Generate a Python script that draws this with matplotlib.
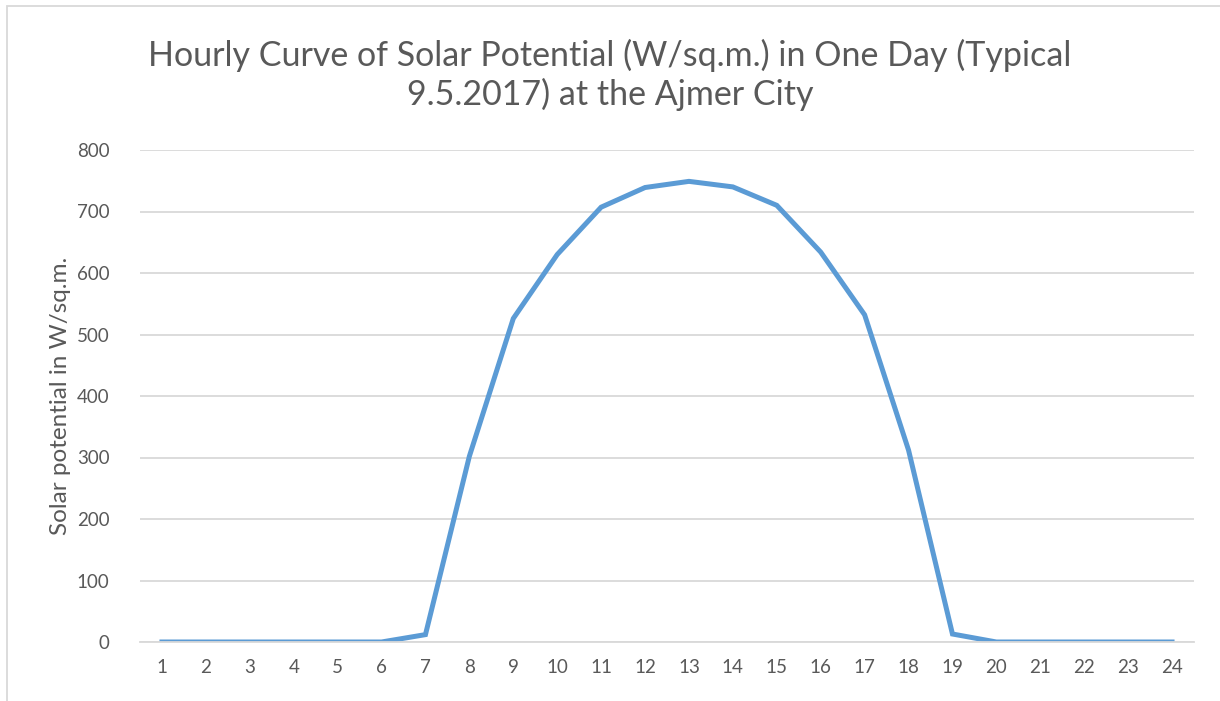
import matplotlib.pyplot as plt
from matplotlib.patches import Rectangle

# hourly solar potential, W/sq.m.
hours = list(range(1, 25))
potential = [0, 0, 0, 0, 0, 0, 12, 302, 526, 630, 707, 739,
             749, 740, 710, 634, 532, 312, 13, 0, 0, 0, 0, 0]
yticks = [0, 100, 200, 300, 400, 500, 600, 700, 800]

textColor = '#595959'
gridColor = '#d9d9d9'
lineColor = '#5b9bd5'

plt.rcParams['font.family'] = ['Lato', 'DejaVu Sans']

fig = plt.figure(figsize=(12.2, 7.01), dpi=100)
ax = fig.add_axes([140 / 1220, 1 - 642 / 701, 1054 / 1220, 492 / 701])

ax.plot(hours, potential, color=lineColor, linewidth=3.6, solid_joinstyle='miter')

ax.set_xlim(0.5, 24.5)
ax.set_ylim(0, 800)
ax.set_xticks(hours)
ax.set_yticks(yticks)
ax.tick_params(length=0, labelsize=13.5, colors=textColor, pad=12)
ax.tick_params(axis='y', pad=22)
ax.grid(axis='y', color=gridColor, linewidth=1.3)
ax.set_axisbelow(True)
for side in ax.spines.values():
    side.set_visible(False)
ax.spines['bottom'].set_visible(True)
ax.spines['bottom'].set_color(gridColor)
ax.spines['bottom'].set_linewidth(1.3)

ax.set_ylabel('Solar potential in W/sq.m.', fontsize=17.5, color=textColor, labelpad=4)

fig.text(0.5, 1 - 75 / 701, 'Hourly Curve of Solar Potential (W/sq.m.) in One Day (Typical\n9.5.2017) at the Ajmer City',
         ha='center', va='center', fontsize=24.5, color=textColor, linespacing=1.22)

# chart frame, open on the right and bottom
fig.patches.append(Rectangle((7 / 1220, -0.1), 1.2, 1 - 6 / 701 + 0.1, transform=fig.transFigure,
                             fill=False, edgecolor=gridColor, linewidth=1.3))

fig.savefig('out.png', dpi=100)
